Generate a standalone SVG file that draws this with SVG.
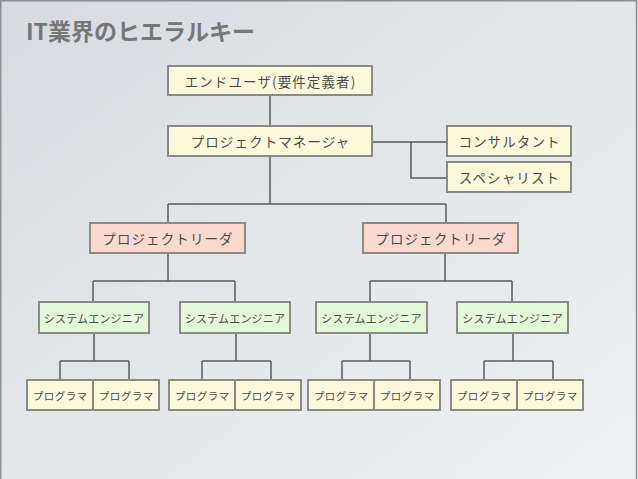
<svg xmlns="http://www.w3.org/2000/svg" width="638" height="479" viewBox="0 0 638 479">
<defs>
<linearGradient id="bg" x1="0" y1="0" x2="1" y2="1">
<stop offset="0" stop-color="#d7dbdf"/>
<stop offset="0.5" stop-color="#e4e7ea"/>
<stop offset="1" stop-color="#eff1f3"/>
</linearGradient>
<style>
.box{stroke:#8a8a88;stroke-width:2}
.y{fill:#fdfadb}
.r{fill:#fbd9cf}
.g{fill:#e3f9d8}
.t{font-family:"Noto Sans CJK JP","Liberation Sans",sans-serif;fill:#4a4a4a;text-anchor:middle;dominant-baseline:central}
.l{font-size:13.5px;letter-spacing:1.1px}
.s{font-size:11px;letter-spacing:0.2px}
.p{font-size:10.5px;letter-spacing:0.5px}
#connectors path{fill:none;stroke:#5a5a5a;stroke-width:1.5}
</style>
</defs>
<rect x="0" y="0" width="638" height="479" fill="url(#bg)"/>
<path d="M0.75 479V0.75H636.5V479" fill="none" stroke="#8c8e90" stroke-width="1.5"/>
<text x="26" y="40" font-family="'Noto Sans CJK JP','Liberation Sans',sans-serif" font-weight="bold" font-size="23" fill="#767676">IT業界のヒエラルキー</text>
<g id="connectors">
<path d="M270 95V126"/>
<path d="M372 142H447M411 142V178H447"/>
<path d="M270 156V204M168 204H446M168 204V223M446 204V223"/>
<path d="M168 253V281M93 281H235M93 281V302M235 281V302"/>
<path d="M445 253V281M370 281H512M370 281V302M512 281V302"/>
<path d="M94 333V361M60 361H129M60 361V380M129 361V380"/>
<path d="M236 333V361M202 361H271M202 361V380M271 361V380"/>
<path d="M370 333V361M342 361H410M342 361V380M410 361V380"/>
<path d="M513 333V361M484 361H553M484 361V380M553 361V380"/>
</g>
<g id="enduser"><rect class="box y" x="168" y="66" width="204" height="29"/><text class="t l" x="270.5" y="80.5">エンドユーザ(要件定義者)</text></g>
<g id="pm"><rect class="box y" x="168" y="126" width="204" height="30"/><text class="t l" x="270.5" y="141">プロジェクトマネージャ</text></g>
<g id="consultant"><rect class="box y" x="447" y="126" width="124" height="30"/><text class="t l" x="509.5" y="141">コンサルタント</text></g>
<g id="specialist"><rect class="box y" x="447" y="162" width="124" height="30"/><text class="t l" x="509.5" y="177">スペシャリスト</text></g>
<g id="leader1"><rect class="box r" x="90" y="223" width="155" height="30"/><text class="t l" x="168" y="238">プロジェクトリーダ</text></g>
<g id="leader2"><rect class="box r" x="363" y="223" width="155" height="30"/><text class="t l" x="441" y="238">プロジェクトリーダ</text></g>
<g id="se1"><rect class="box g" x="39" y="302" width="110" height="31"/><text class="t s" x="94" y="317.5">システムエンジニア</text></g>
<g id="se2"><rect class="box g" x="180" y="302" width="110" height="31"/><text class="t s" x="235" y="317.5">システムエンジニア</text></g>
<g id="se3"><rect class="box g" x="316" y="302" width="111" height="31"/><text class="t s" x="371.5" y="317.5">システムエンジニア</text></g>
<g id="se4"><rect class="box g" x="457" y="302" width="111" height="31"/><text class="t s" x="512.5" y="317.5">システムエンジニア</text></g>
<g id="pg1"><rect class="box y" x="27" y="380" width="66" height="30"/><text class="t p" x="60.2" y="395">プログラマ</text></g>
<g id="pg2"><rect class="box y" x="93" y="380" width="66" height="30"/><text class="t p" x="126.2" y="395">プログラマ</text></g>
<g id="pg3"><rect class="box y" x="169" y="380" width="66" height="30"/><text class="t p" x="202.2" y="395">プログラマ</text></g>
<g id="pg4"><rect class="box y" x="235" y="380" width="66" height="30"/><text class="t p" x="268.2" y="395">プログラマ</text></g>
<g id="pg5"><rect class="box y" x="308" y="380" width="66" height="30"/><text class="t p" x="341.2" y="395">プログラマ</text></g>
<g id="pg6"><rect class="box y" x="374" y="380" width="66" height="30"/><text class="t p" x="407.2" y="395">プログラマ</text></g>
<g id="pg7"><rect class="box y" x="451" y="380" width="66" height="30"/><text class="t p" x="484.2" y="395">プログラマ</text></g>
<g id="pg8"><rect class="box y" x="517" y="380" width="66" height="30"/><text class="t p" x="550.2" y="395">プログラマ</text></g>
</svg>
